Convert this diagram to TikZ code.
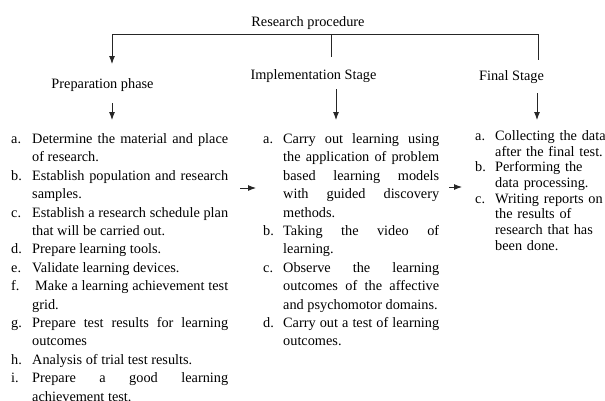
\documentclass[tikz,border=0pt]{standalone}
\usepackage{fontspec}
\setmainfont{Liberation Serif}
\usetikzlibrary{arrows.meta}
\newcommand{\itm}[3][21pt]{\par\hangindent=#1\hangafter=1\noindent\makebox[#1][l]{\strut#2}#3}
\tikzset{
  lbl/.style={inner sep=0pt, anchor=base, font=\fontsize{14.3}{17}\selectfont},
  lst/.style={inner sep=0pt, anchor=north west, align=justify, font=\fontsize{14.3}{18.4}\selectfont},
  lstr/.style={inner sep=0pt, anchor=north west, align=left, font=\fontsize{14.3}{15.7}\selectfont},
  conn/.style={line width=0.9pt, draw=black!85},
  arr/.style={conn, -{Latex[length=8pt,width=6pt]}},
}
\begin{document}
\begin{tikzpicture}[x=1pt,y=-1pt]
\useasboundingbox (0,0) rectangle (605,400);
% titles
\node[lbl] (rp) at (308,26.5) {Research procedure};
\node[lbl] (prep) at (102.5,88) {Preparation phase};
\node[lbl] (impl) at (313.5,79) {Implementation Stage};
\node[lbl] (fin) at (511.5,80.5) {Final Stage};
% bar coordinates
\coordinate (barL) at (112,34);
\coordinate (barM) at (331,34);
\coordinate (barR) at (538,34);
\coordinate (tipL) at (112,64);
\coordinate (endM) at (331,57);
\coordinate (endR) at (538,60);
% lists
\node[lst, text width=217pt] (lA) at (11,124.8) {%
\itm{a.}{Determine the material and place\linebreak of research.}
\itm{b.}{Establish population and research\linebreak samples.}
\itm{c.}{Establish a research schedule plan\linebreak that will be carried out.}
\itm{d.}{Prepare learning tools.}
\itm{e.}{Validate learning devices.}
\itm{f.}{\hspace{3pt}Make a learning achievement test\linebreak grid.}
\itm{g.}{Prepare test results for learning\linebreak outcomes}
\itm{h.}{Analysis of trial test results.}
\itm{i.}{Prepare a good learning\linebreak achievement test.}\par};
\node[lst, text width=176pt] (lB) at (263,124.8) {%
\itm[20pt]{a.}{Carry out learning using\linebreak the application of problem\linebreak based learning models\linebreak with guided discovery\linebreak methods.}
\itm[20pt]{b.}{Taking the video of\linebreak learning.}
\itm[20pt]{c.}{Observe the learning\linebreak outcomes of the affective\linebreak and psychomotor domains.}
\itm[20pt]{d.}{Carry out a test of learning\linebreak outcomes.}\par};
\node[lstr, text width=150pt] (lC) at (475,124.5) {%
\itm[20pt]{a.}{Collecting the data\newline after the final test.}
\itm[20pt]{b.}{Performing the\newline data processing.}
\itm[20pt]{c.}{Writing reports on\newline the results of\newline research that has\newline been done.}\par};
% connector coordinates
\coordinate (pA) at (112,103);
\coordinate (pB) at (112,120);
\coordinate (iA) at (336,89);
\coordinate (iB) at (336,120);
\coordinate (fA) at (537,93);
\coordinate (fB) at (537,120);
\coordinate (hA1) at (240,188);
\coordinate (hA2) at (256,188);
\coordinate (hB1) at (449,187);
\coordinate (hB2) at (462,187);
% connectors
\draw[conn] (barL) -- (barR);
\draw[arr] (barL) -- (tipL);
\draw[conn] (barM) -- (endM);
\draw[conn] (barR) -- (endR);
\draw[arr] (pA) -- (pB);
\draw[arr] (iA) -- (iB);
\draw[arr] (fA) -- (fB);
\draw[arr] (hA1) -- (hA2);
\draw[arr] (hB1) -- (hB2);
\end{tikzpicture}
\end{document}
